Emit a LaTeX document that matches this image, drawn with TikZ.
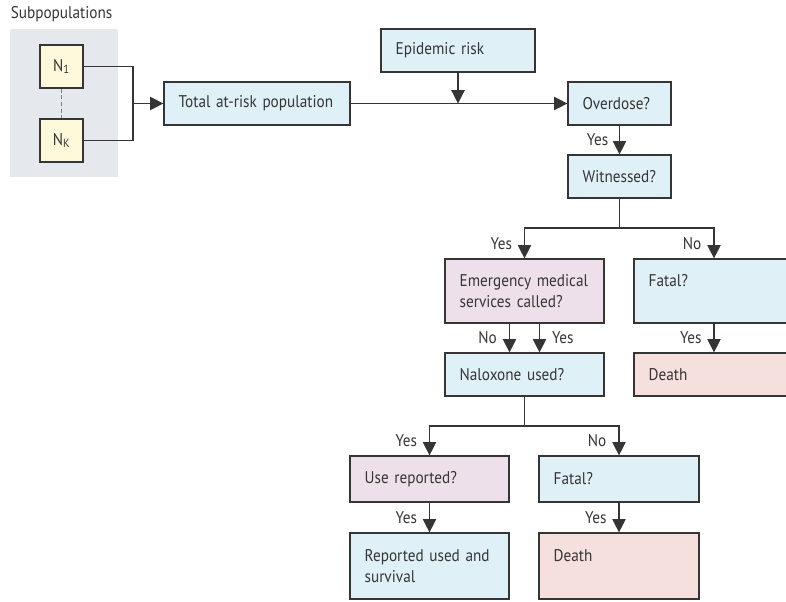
\documentclass[tikz,border=0pt]{standalone}
\usepackage{fontspec}
\setmainfont{PT Sans}[FakeStretch=0.9]
\usetikzlibrary{arrows.meta,positioning}
\definecolor{lineDark}{HTML}{353535}
\definecolor{paleBlue}{HTML}{DFF0F7}
\definecolor{paleLilac}{HTML}{EEE0EB}
\definecolor{palePink}{HTML}{F6E0DE}
\definecolor{paleYellow}{HTML}{FFF9DB}
\definecolor{subGray}{HTML}{E5E8EC}
\definecolor{dashGray}{HTML}{71808C}
\newcommand\boxfont{\fontsize{12.7}{15.4}\selectfont}

\begin{document}
\begin{tikzpicture}[
  x=.75pt,y=-.75pt,
  font=\boxfont,text=lineDark,
  box/.style={draw=lineDark,line width=.9pt,fill=paleBlue,align=left,
    inner xsep=11pt,inner ysep=0pt,minimum height=32.25pt},
  lilac/.style={box,fill=paleLilac},
  pink/.style={box,fill=palePink},
  sub/.style={draw=lineDark,line width=.9pt,fill=paleYellow,
    minimum size=32.25pt,inner sep=0pt},
  tag/.style={inner sep=1pt,font=\boxfont},
  line/.style={draw=lineDark,line width=.9pt},
  arr/.style={line,-{Triangle[length=10pt,width=10pt]}}
]
  \useasboundingbox (0,0) rectangle (786,601);

  \node[fill=subGray,minimum width=81pt,minimum height=111pt] (subpops) at (64,103) {};
  \node[anchor=base west,inner sep=0pt] (subLabel) at (10.5,18.5) {Subpopulations};
  \node[sub] (n1) at (61.5,66.5) {N\textsubscript{1}};
  \node[sub] (nk) at (61.5,140.5) {N\textsubscript{K}};

  \node[box,text width=117.5pt] (total) at (257,103.5) {Total at-risk population};
  \node[box,text width=93.5pt] (epi) at (458,50.5) {Epidemic risk};
  \node[box,text width=55.25pt] (over) at (619.5,103.5) {Overdose?};
  \node[box,text width=55.25pt] (wit) at (619.5,176.5) {Witnessed?};

  \node[lilac,text width=97.25pt,minimum height=48pt] (ems) at (524.5,291) {Emergency medical\\services called?};
  \node[box,text width=98pt,minimum height=48pt] (fatalA) at (714,291) {Fatal?\\\mbox{}};
  \node[box,text width=97.25pt] (nalox) at (524.5,374.5) {Naloxone used?};
  \node[pink,text width=98pt] (deathA) at (714,374.5) {Death};

  \node[lilac,text width=97.25pt,minimum height=34.5pt] (usedQ) at (429.5,479) {Use reported?};
  \node[box,text width=98pt,minimum height=34.5pt] (fatalB) at (619,479) {Fatal?};
  \node[box,text width=97.25pt,minimum height=49.5pt] (survived) at (429.5,566) {Reported used and\\survival};
  \node[pink,text width=98pt,minimum height=49.5pt] (deathB) at (619,566) {Death\\\mbox{}};

  \coordinate (merge) at (133,103.5);
  \coordinate (epiJoin) at (epi.south |- total.east);
  \coordinate (witFork) at (619.5,228);
  \coordinate (naloxFork) at (524.5,426);

  \draw[line,dashGray,densely dashed] (n1) -- (nk);
  \draw[line] (n1) -| (merge);
  \draw[line] (nk) -| (merge);
  \draw[arr] (merge) -- (total);
  \draw[arr] (total) -- (over);
  \draw[arr] (epi) -- (epiJoin);
  \draw[arr] (over) -- node[tag,left=7pt]{Yes} (wit);

  \draw[line] (wit) -- (witFork);
  \draw[arr] (witFork) -| node[tag,pos=.75,left=8pt]{Yes} (ems);
  \draw[arr] (witFork) -| node[tag,pos=.75,left=8pt]{No} (fatalA);
  \draw[arr] ([xshift=-11.25pt]ems.south) -- node[tag,left=8pt]{No} ([xshift=-11.25pt]nalox.north);
  \draw[arr] ([xshift=11.25pt]ems.south) -- node[tag,right=8pt]{Yes} ([xshift=11.25pt]nalox.north);
  \draw[arr] (fatalA) -- node[tag,left=8pt]{Yes} (deathA);

  \draw[line] (nalox) -- (naloxFork);
  \draw[arr] (naloxFork) -| node[tag,pos=.75,left=8pt]{Yes} (usedQ);
  \draw[arr] (naloxFork) -| node[tag,pos=.75,left=8pt]{No} (fatalB);
  \draw[arr] (usedQ) -- node[tag,left=8pt]{Yes} (survived);
  \draw[arr] (fatalB) -- node[tag,left=8pt]{Yes} (deathB);
\end{tikzpicture}
\end{document}
